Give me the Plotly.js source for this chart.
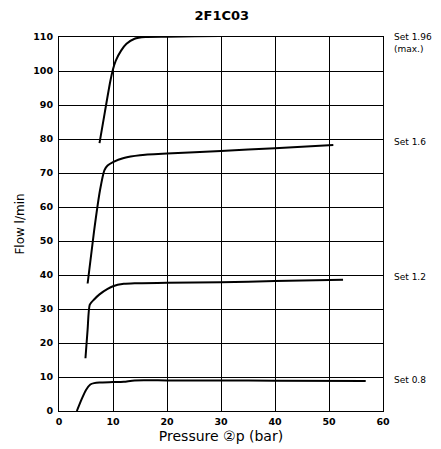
<!DOCTYPE html>
<html><head><meta charset="utf-8">
<script src="https://cdn.plot.ly/plotly-3.0.1.min.js"></script>
<style>body{margin:0;background:#fff}#c{width:441px;height:449px}</style>
</head><body><div id="c"></div><script>
const x196 = [7.5, 8.5, 9.5, 10, 10.5, 11.5, 12.5, 14, 16, 20, 30, 40, 51.9];
const y196 = [78.8, 88, 97, 100.5, 103, 106, 108, 109.5, 110, 110.1, 110.3, 110.5, 110.7];
const x16 = [5.3, 6.5, 7.6, 8.4, 9, 10, 12, 15, 20, 30, 40, 50.8];
const y16 = [37.5, 53, 65, 70.8, 72.2, 73.2, 74.4, 75.2, 75.7, 76.5, 77.3, 78.2];
const x12 = [4.9, 5.3, 5.7, 6.5, 7.5, 9, 10, 12, 14, 20, 30, 40, 52.6];
const y12 = [15.5, 24, 31.3, 32.8, 34.3, 35.9, 36.7, 37.4, 37.6, 37.7, 37.9, 38.2, 38.6];
const x08 = [3.3, 4.2, 5, 5.8, 6.5, 7.5, 10, 12, 14, 20, 30, 40, 56.8];
const y08 = [0, 3.5, 6.2, 7.8, 8.2, 8.4, 8.5, 8.6, 9, 9, 9, 8.9, 8.8];
const setLabels = ['Set 1.96<br>(max.)', 'Set 1.6', 'Set 1.2', 'Set 0.8'];
const setY = [108.3, 79, 39.3, 9];
const xTicks = [0, 10, 20, 30, 40, 50, 60];
const yTicks = [0, 10, 20, 30, 40, 50, 60, 70, 80, 90, 100, 110];

const FONT = 'DejaVu Sans, Verdana, sans-serif';
const line = {color: '#000', width: 2, shape: 'spline', smoothing: 0.6};
const traces = [[x196, y196], [x16, y16], [x12, y12], [x08, y08]].map(([x, y]) => ({
  x, y, type: 'scatter', mode: 'lines', line, hoverinfo: 'skip', showlegend: false, cliponaxis: false
}));

const annotations = setLabels.map((t, i) => ({
  text: t, xref: 'paper', yref: 'y', x: 1.028, y: setY[i], xanchor: 'left',
  yanchor: 'middle', align: 'left', showarrow: false,
  font: {family: FONT, size: 9, color: '#000'}
}));

const axisCommon = {
  showgrid: true, gridcolor: '#000', gridwidth: 1, zeroline: false,
  showline: true, linecolor: '#000', linewidth: 1, mirror: true, ticks: '',
  tickfont: {family: FONT, size: 9.5, color: '#000', weight: 'bold'},
  fixedrange: true
};

const layout = {
  width: 441, height: 449,
  margin: {l: 59, r: 58, t: 37, b: 38},
  paper_bgcolor: '#fff', plot_bgcolor: '#fff',
  title: {text: '<b>2F1C03</b>', x: 0.503, xanchor: 'center', y: 0.966, yanchor: 'middle',
    font: {family: FONT, size: 13, color: '#000'}},
  xaxis: Object.assign({}, axisCommon, {range: [0, 60], tickvals: xTicks, ticklabelstandoff: 2,
    title: {text: 'Pressure ②p (bar)', standoff: 4,
      font: {family: FONT, size: 14, color: '#000'}}}),
  yaxis: Object.assign({}, axisCommon, {range: [0, 110], tickvals: yTicks, ticklabelstandoff: 3,
    title: {text: 'Flow l/min', standoff: 6,
      font: {family: FONT, size: 12, color: '#000'}}}),
  annotations
};

Plotly.newPlot('c', traces, layout, {displayModeBar: false, staticPlot: true});
</script></body></html>
